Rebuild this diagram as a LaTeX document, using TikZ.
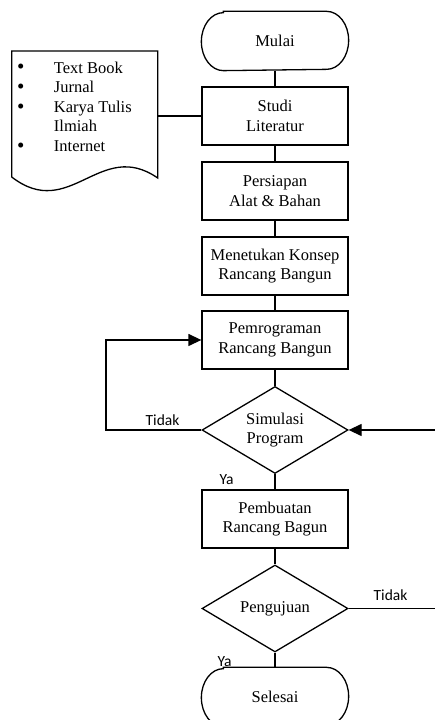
\documentclass[tikz,border=0pt]{standalone}
\usepackage{fontspec}
\setmainfont{Liberation Serif}
\newfontfamily\labfont{Carlito}
\usetikzlibrary{arrows.meta,shapes.geometric}
\newcommand\mainfs{\fontsize{16.5}{19.7}\selectfont}
\newcommand\bulfs{\fontsize{21}{20}\selectfont}
\newcommand\labfs{\labfont\fontsize{15.5}{18}\selectfont}
\newcommand\termshape[1]{%
  \draw ([xshift=22pt]#1.north west) -- ([xshift=-22pt]#1.north east)
    arc[start angle=90,end angle=-90,x radius=22pt,y radius=29pt]
    -- ([xshift=22pt]#1.south west)
    arc[start angle=270,end angle=90,x radius=22pt,y radius=29pt] -- cycle;}
\begin{document}
\begin{tikzpicture}[x=1pt,y=1pt,line width=1.3pt,
  proc/.style={draw,rectangle,minimum width=146pt,minimum height=58pt,inner sep=0pt,align=center,font=\mainfs},
  term/.style={rectangle,minimum width=146pt,minimum height=58pt,inner sep=0pt,align=center,font=\mainfs},
  decis/.style={draw,diamond,aspect=1.68,minimum width=146pt,minimum height=87pt,inner sep=0pt,align=center,font=\mainfs},
  listtxt/.style={anchor=base west,inner sep=0pt,font=\mainfs},
  bul/.style={anchor=base,inner sep=0pt,font=\bulfs},
  lab/.style={anchor=base west,inner sep=0pt,font=\labfs},
  arr/.style={-{Triangle[length=13pt,width=12pt]}}]
\useasboundingbox (0,0) rectangle (435,720);
% nodes
\node[term] (mulai) at (275,679) {Mulai};
\termshape{mulai}
\node[proc] (studi) at (275,604) {Studi\\Literatur};
\node[proc] (siap) at (275,529) {Persiapan\\Alat \& Bahan};
\node[proc] (konsep) at (275,454) {Menetukan Konsep\\Rancang Bangun};
\node[proc] (prog) at (275,380) {Pemrograman\\Rancang Bangun};
\node[decis] (sim) at (275,290) {Simulasi\\Program};
\node[proc] (buat) at (275,201) {Pembuatan\\Rancang Bagun};
\node[decis] (uji) at (275,111.5) {Pengujuan};
\node[term] (selesai) at (275,23) {Selesai};
\termshape{selesai}
% document shape
\node[rectangle,minimum width=146pt,minimum height=130pt,inner sep=0pt] (doc) at (84.7,604) {};
\draw (11.7,669) -- (157.7,669) -- (157.7,542)
  .. controls (100,582) and (70,498) .. (11.7,543) -- cycle;
\node[bul] (b1) at (20.7,646.2) {•};
\node[bul] (b2) at (20.7,626.5) {•};
\node[bul] (b3) at (20.7,606.8) {•};
\node[bul] (b4) at (20.7,567.8) {•};
\node[listtxt] (t1) at (53.3,646.7) {Text Book};
\node[listtxt] (t2) at (53.3,627) {Jurnal};
\node[listtxt] (t3) at (53.3,607.3) {Karya Tulis};
\node[listtxt] (t4) at (53.3,588) {Ilmiah};
\node[listtxt] (t5) at (53.3,568.3) {Internet};
% connectors
\draw (mulai) -- (studi);
\draw (studi) -- (siap);
\draw (siap) -- (konsep);
\draw (konsep) -- (prog);
\draw (prog) -- (sim);
\draw (sim) -- (buat);
\draw (buat) -- (uji);
\draw (uji) -- (selesai);
\draw (doc.east) -- (studi.west);
\coordinate (loopc) at (106,290);
\draw[arr] (sim.west) -- (loopc) |- (prog.west);
\coordinate (rin) at (435,290);
\draw[arr] (rin) -- (sim.east);
\coordinate (rout) at (435,111.5);
\draw (uji.east) -- (rout);
% labels
\node[lab] (l1) at (145,294) {Tidak};
\node[lab] (l2) at (219,235) {Ya};
\node[lab] (l3) at (373,119) {Tidak};
\node[lab] (l4) at (217,53) {Ya};
\end{tikzpicture}
\end{document}
